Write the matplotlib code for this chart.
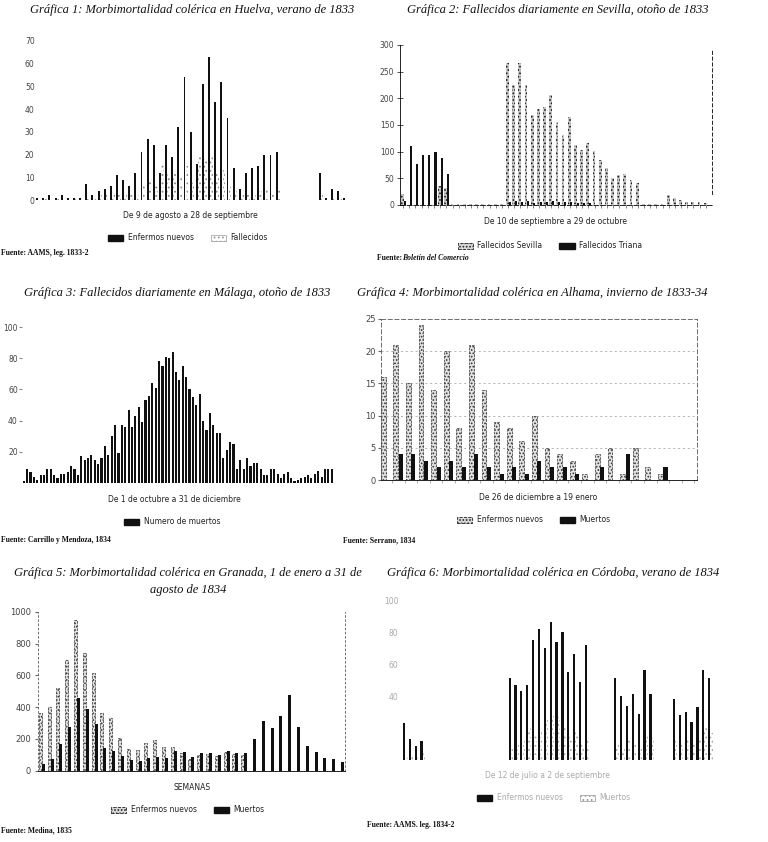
import numpy as np
import matplotlib
matplotlib.use('Agg')
import matplotlib.pyplot as plt
from matplotlib.patches import Patch

# Gráfica 1: Huelva, 9 de agosto a 28 de septiembre de 1833 (51 días)
huelva_enfermos = [1, 1, 2, 1, 2, 1, 1, 1,
                   7, 2, 4, 5, 6, 11, 9, 6, 12, 21, 27, 24, 12, 24, 19, 32, 54, 30,
                   16, 51, 63, 43, 52, 36, 14, 5, 12, 14, 15, 20, 20, 21,
                   0, 0, 0, 0, 0, 0, 12, 1, 5, 4, 1]
huelva_fallecidos = [0, 1, 0, 1, 0, 0, 1, 0,
                     1, 1, 2, 2, 3, 2, 3, 2, 3,
                     6, 10, 7, 16, 12, 12, 10, 15, 8, 20, 18, 20, 12, 14, 6, 4, 2, 3, 3, 4, 5, 5, 6,
                     0, 0, 0, 0, 0, 0, 2, 0, 1, 1, 0]

# Gráfica 2: Sevilla, 10 de septiembre a 29 de octubre de 1833 (50 días)
sevilla_fallecidos = [20, 0, 0, 0, 0, 0, 35, 32,
                      2, 2, 2, 2, 2, 2, 2, 2, 2,
                      267, 225, 267, 225, 169, 180, 184, 206, 155, 131, 165, 112, 104, 116,
                      102, 84, 69, 50, 56, 59, 47, 42,
                      1, 1, 1, 1, 19, 14, 10, 6, 6, 6, 4]
triana_fallecidos = [8, 110, 77, 93, 94, 99, 89, 58,
                     0, 0, 0, 0, 0, 0, 0, 0, 0,
                     6, 8, 5, 7, 4, 6, 5, 7, 6, 5, 6, 4, 3, 4,
                     0, 0, 0, 0, 0, 0, 0, 0, 0, 0, 0, 0, 0, 0, 0, 0, 0, 0, 0]

# Gráfica 3: Málaga, 1 de octubre a 31 de diciembre de 1833 (92 días)
malaga_muertos = [1, 9, 7, 4, 2, 5, 5, 9, 9, 5, 3, 6, 6, 7, 11, 9, 5, 17, 15,
                  16, 18, 15, 12, 16, 24, 18, 30, 37, 19, 37, 36, 47, 36, 43, 49, 39,
                  53, 56, 64, 61, 78, 75, 81, 80, 84, 71, 66, 75, 68, 60, 55, 50, 57,
                  40, 34, 45, 37, 32, 32, 16, 21, 26, 25, 9, 15, 9, 16, 11, 13, 13, 9,
                  5, 5, 9, 9, 6, 3, 6, 7, 3, 1, 2, 3, 4, 5, 3, 6, 8, 4, 9, 9, 9]

# Gráfica 4: Alhama, 26 de diciembre a 19 de enero (25 días)
alhama_enfermos = [16, 21, 15, 24, 14, 20, 8, 21, 14, 9, 8, 6, 10, 5, 4, 3, 1, 4, 5, 1, 5, 2, 1, 0, 0]
alhama_muertos = [0, 4, 4, 3, 2, 3, 2, 4, 2, 1, 2, 1, 3, 2, 2, 1, 0, 2, 0, 4, 0, 0, 2, 0, 0]

# Gráfica 5: Granada, semanas del 1 de enero al 31 de agosto de 1834
granada_enfermos = [365, 402, 518, 696, 948, 738, 616, 365, 329, 203, 134, 132, 172, 193,
                    147, 151, 110, 75, 100, 105, 95, 115, 105, 100,
                    0, 0, 0, 0, 0, 0, 0, 0, 0, 0, 0]
granada_muertos = [40, 75, 168, 277, 455, 386, 294, 145, 126, 92, 67, 61, 78, 84, 82, 126,
                   120, 84, 109, 113, 101, 124, 113, 109, 197, 312, 266, 346, 476, 272,
                   155, 115, 82, 73, 57]

# Gráfica 6: Córdoba, verano de 1834 (53 días)
cordoba_enfermos = [23, 13, 9, 12,
                    0, 0, 0, 0, 0, 0, 0, 0, 0, 0, 0, 0, 0, 0,
                    51, 47, 43, 47, 75, 82, 70, 86, 74, 80, 55, 66, 49, 72,
                    0, 0, 0, 0,
                    51, 40, 34, 41, 29, 56, 41,
                    0, 0, 0,
                    38, 28, 30, 24, 33, 56, 51]
cordoba_muertos = [2, 3, 2, 5,
                   0, 0, 0, 0, 0, 0, 0, 0, 0, 0, 0, 0, 0, 0,
                   8, 10, 12, 20, 15, 18, 25, 28, 27, 20, 15, 18, 10, 12,
                   0, 0, 0, 0,
                   10, 8, 12, 10, 8, 15, 14,
                   0, 0, 0,
                   12, 10, 14, 12, 15, 20, 17]

W, H = 768, 842
BLACK = '#111111'
plt.rcParams['hatch.linewidth'] = 0.8

fig = plt.figure(figsize=(W / 100, H / 100), dpi=100)
fig.patch.set_facecolor('white')


def px_axes(left, top, right, bottom):
    # axes placed with pixel coordinates of the scan
    return fig.add_axes([left / W, 1 - bottom / H, (right - left) / W, (bottom - top) / H])


def ftext(x, y, s, **kw):
    fig.text(x / W, 1 - y / H, s, **kw)


def title(x, y, s):
    ftext(x, y, s, ha='center', va='center', family='Liberation Serif',
          style='italic', fontsize=9, color='#111')


def source(x, y, s):
    ftext(x, y, s, ha='left', va='center', family='Liberation Serif',
          weight='bold', fontsize=5.5, color='#111')


def xlabel(x, y, s, color='#222'):
    ftext(x, y, s, ha='center', va='center', fontsize=5.5, color=color)


def legend(cx, cy, handles, labels, color='#222'):
    leg = fig.legend(handles, labels, loc='center', bbox_to_anchor=(cx / W, 1 - cy / H),
                     ncol=len(handles), frameon=False, fontsize=5.5, handlelength=2.0,
                     handleheight=0.8, columnspacing=2.2, handletextpad=0.6)
    for t in leg.get_texts():
        t.set_color(color)


def clean(ax, spines=()):
    for s in ['left', 'right', 'top', 'bottom']:
        ax.spines[s].set_visible(s in spines)
    ax.tick_params(axis='y', labelsize=5.5, labelcolor='#444', length=0, pad=1)
    ax.set_xticks([])
    ax.set_facecolor('none')


black_patch = Patch(facecolor=BLACK, edgecolor=BLACK)
dots_light = Patch(facecolor='white', edgecolor='#999999', hatch='....', lw=0.5)
dots_dark = Patch(facecolor='#d8d8d8', edgecolor='#222222', hatch='.....', lw=0.6, ls='--')

# ---- Gráfica 1
ax1 = px_axes(36, 41, 348, 200)
x = np.arange(len(huelva_enfermos))
ax1.bar(x - 0.12, huelva_enfermos, width=0.32, color=BLACK, zorder=3)
ax1.bar(x + 0.28, huelva_fallecidos, width=0.42, facecolor='white', edgecolor='#8a8a8a',
        hatch='....', lw=0, zorder=2)
ax1.set_xlim(-0.3, 50.5)
ax1.set_ylim(0, 70)
ax1.set_yticks(range(0, 71, 10))
clean(ax1)
title(192, 10, 'Gráfica 1: Morbimortalidad colérica en Huelva, verano de 1833')
xlabel(190, 215, 'De 9 de agosto a 28 de septiembre')
legend(188, 238, [black_patch, dots_light], ['Enfermos nuevos', 'Fallecidos'])
source(1, 253, 'Fuente: AAMS, leg. 1833-2')

# ---- Gráfica 2
ax2 = px_axes(400, 45, 712, 205)
x = np.arange(len(sevilla_fallecidos))
ax2.bar(x - 0.1, sevilla_fallecidos, width=0.45, facecolor='#c8c8c8', edgecolor='#111111',
        hatch='.....', lw=0, zorder=2)
ax2.bar(x + 0.25, triana_fallecidos, width=0.34, color=BLACK, zorder=3)
ax2.set_xlim(-0.5, 50)
ax2.set_ylim(0, 300)
clean(ax2, spines=('left', 'bottom', 'right'))
ax2.set_yticks(range(0, 301, 50))
ax2.tick_params(axis='y', length=4, direction='inout', width=0.6, color='#333', pad=2)
ax2.set_xticks(x)
ax2.set_xticklabels([])
ax2.tick_params(axis='x', length=2, width=0.5, color='#555')
ax2.spines['left'].set_linewidth(0.6)
ax2.spines['bottom'].set_linewidth(0.6)
ax2.spines['bottom'].set_linestyle((0, (6, 2)))
ax2.spines['right'].set_linewidth(0.6)
ax2.spines['right'].set_linestyle((0, (4, 3)))
ax2.spines['right'].set_bounds(20, 290)
title(558, 10, 'Gráfica 2: Fallecidos diariamente en Sevilla, otoño de 1833')
xlabel(555, 221, 'De 10 de septiembre a 29 de octubre')
legend(550, 246, [dots_dark, black_patch], ['Fallecidos Sevilla', 'Fallecidos Triana'])
ftext(377, 258, 'Fuente: ', ha='left', va='center', family='Liberation Serif',
      weight='bold', fontsize=5.5, color='#111')
ftext(402, 258, 'Boletín del Comercio', ha='left', va='center', family='Liberation Serif',
      weight='bold', style='italic', fontsize=5.5, color='#111')

# ---- Gráfica 3
ax3 = px_axes(22, 327, 333.4, 483)
x = np.arange(len(malaga_muertos))
ax3.bar(x, malaga_muertos, width=0.62, color=BLACK)
ax3.set_xlim(-0.5, len(malaga_muertos) - 0.5)
ax3.set_ylim(0, 100)
ax3.set_yticks([20, 40, 60, 80, 100])
clean(ax3)
ax3.tick_params(axis='y', length=2, color='#888', pad=1)
title(177, 293, 'Gráfica 3: Fallecidos diariamente en Málaga, otoño de 1833')
xlabel(174, 500, 'De 1 de octubre a 31 de diciembre')
legend(172, 522, [black_patch], ['Numero de muertos'])
source(1, 540, 'Fuente: Carrillo y Mendoza, 1834')

# ---- Gráfica 4
ax4 = px_axes(381, 319, 697, 480)
x = np.arange(len(alhama_enfermos))
for yv in [5, 10, 15, 20]:
    ax4.axhline(yv, color='#999999', lw=0.5, ls=(0, (3, 4)), zorder=0)
ax4.bar(x - 0.2, alhama_enfermos, width=0.38, facecolor='#e2e2e2', edgecolor='#333333',
        hatch='.....', lw=0.5, ls='--', zorder=2)
ax4.bar(x + 0.2, alhama_muertos, width=0.32, color=BLACK, zorder=3)
ax4.set_xlim(-0.37, 24.7)
ax4.set_ylim(0, 25)
clean(ax4, spines=('left', 'right', 'top', 'bottom'))
ax4.set_yticks(range(0, 26, 5))
ax4.tick_params(axis='y', length=2, color='#666', pad=2, labelsize=6)
ax4.set_xticks(x + 0.5)
ax4.set_xticklabels([])
ax4.tick_params(axis='x', length=2, width=0.4, color='#777')
for s in ['left', 'right', 'top']:
    ax4.spines[s].set_linestyle((0, (5, 3)))
    ax4.spines[s].set_linewidth(0.6)
    ax4.spines[s].set_color('#555')
ax4.spines['bottom'].set_linewidth(0.6)
title(532, 293, 'Gráfica 4: Morbimortalidad colérica en Alhama, invierno de 1833-34')
xlabel(538, 497, 'De 26 de diciembre a 19 enero')
legend(534, 520, [dots_dark, black_patch], ['Enfermos nuevos', 'Muertos'])
source(343, 540, 'Fuente: Serrano, 1834')

# ---- Gráfica 5
ax5 = px_axes(38, 611.7, 345, 770.7)
x = np.arange(len(granada_muertos))
ax5.bar(x - 0.17, granada_enfermos, width=0.36, facecolor='#e2e2e2', edgecolor='#333333',
        hatch='.....', lw=0.5, ls='--', zorder=2)
ax5.bar(x + 0.17, granada_muertos, width=0.34, color=BLACK, zorder=3)
ax5.set_xlim(-0.43, 34.45)
ax5.set_ylim(0, 1000)
clean(ax5, spines=('left', 'right', 'bottom'))
ax5.set_yticks(range(0, 1001, 200))
ax5.tick_params(axis='y', length=2, color='#666', pad=3, labelsize=6)
for s in ['left', 'right']:
    ax5.spines[s].set_linestyle((0, (2, 3)))
    ax5.spines[s].set_linewidth(0.6)
    ax5.spines[s].set_color('#555')
ax5.spines['bottom'].set_linewidth(0.6)
ftext(188, 573, 'Gráfica 5: Morbimortalidad colérica en Granada, 1 de enero a 31 de',
      ha='center', va='center', family='Liberation Serif', style='italic', fontsize=9, color='#111')
title(188, 590, 'agosto de 1834')
xlabel(192, 787, 'SEMANAS')
legend(188, 810, [dots_dark, black_patch], ['Enfermos nuevos', 'Muertos'])
source(1, 830, 'Fuente: Medina, 1835')

# ---- Gráfica 6
ax6 = px_axes(400, 600, 715, 760)
x = np.arange(len(cordoba_enfermos))
ax6.bar(x, cordoba_enfermos, width=0.38, color=BLACK, zorder=3)
ax6.bar(x + 0.4, cordoba_muertos, width=0.4, facecolor='white', edgecolor='#aaaaaa',
        hatch='....', lw=0, zorder=2)
ax6.set_xlim(-0.68, 53)
ax6.set_ylim(0, 100)
ax6.set_yticks([40, 60, 80, 100])
clean(ax6)
ax6.tick_params(axis='y', labelcolor='#aaaaaa', length=0)
title(553, 573, 'Gráfica 6: Morbimortalidad colérica en Córdoba, verano de 1834')
xlabel(547, 775, 'De 12 de julio a 2 de septiembre', color='#aaaaaa')
legend(554, 798, [black_patch, dots_light], ['Enfermos nuevos', 'Muertos'], color='#aaaaaa')
source(367, 825, 'Fuente: AAMS. leg. 1834-2')

fig.savefig('out.png', dpi=100)
